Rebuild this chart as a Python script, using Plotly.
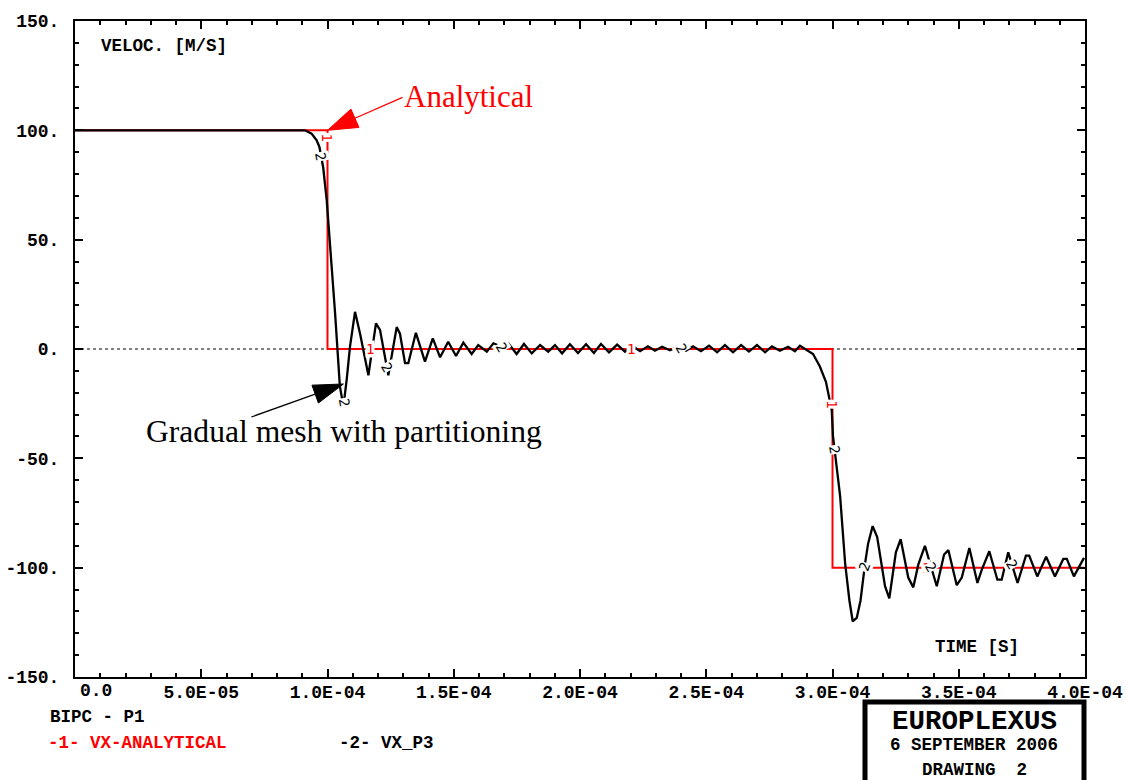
import numpy as np
import plotly.graph_objects as go

# ---------------- data ----------------
# analytical solution (step changes), time in microseconds
ana_t_us = [0, 100, 300, 400]
ana_v = [100, 0, -100, -100]

# numerical result VX_P3, time in microseconds
p3_t_us = [0, 91.1, 93.7, 95.7, 96.8, 98.3, 99.7, 100.7, 101.7, 103.0, 104.9, 106.3,
           107.6, 108.9, 110.9, 112.9, 116.2, 119.2, 120.8, 124.1, 127.4, 128.7,
           130.7, 132.0, 135.0, 138.6, 141.7, 144.6, 147.8, 150.9, 153.8, 157.1,
           159.7, 163.1, 165.7, 169.0, 171.6, 174.9, 177.8, 180.9, 184.2, 187.4,
           190.1, 192.9, 196.0, 199.2, 202.4, 205.5, 208.3, 211.5, 214.7, 217.8,
           220.6, 223.8, 226.9, 229.7, 232.5, 235.6, 238.8, 242.0, 244.8, 247.9,
           251.1, 254.3, 257.4, 260.6, 263.8, 266.9, 270.1, 273.3, 276.0, 279.2,
           282.4, 285.1, 287.1, 289.1, 292.3, 295.0, 297.4, 299.7, 300.2, 303.0,
           305.0, 306.7, 308.0, 309.6, 311.1, 312.9, 314.1, 315.9, 317.7, 320.8,
           322.5, 325.1, 327.0, 330.0, 332.0, 334.0, 336.6, 338.6, 341.3, 344.2,
           345.9, 349.2, 351.2, 354.2, 357.4, 359.1, 362.1, 365.3, 367.0, 369.6,
           373.3, 376.6, 377.9, 381.1, 384.6, 388.1, 391.4, 392.8, 395.6, 399.6]
p3_v = [100, 100, 98.5, 95.4, 92.4, 83, 68, 53, 37.6, 16.4, -17, -26.3,
        -14, 1, 17, 7, -12, 11.7, 8.7, -12, 10, 7,
        -6.5, -6.5, 7.4, -5.8, 4.9, -3.8, 3.3, -3.2, 2.9, -2.3,
        1.8, -1.2, 2.6, 1.0, 2.6, -2.3, 2.3, -2.0, 1.8, -1.2,
        1.8, -2.0, 2.2, -1.8, 2.2, -1.8, 2.3, -1.5, 2.0, -1.2,
        1.5, -1.0, 1.2, -0.8, 1.0, -0.6, 1.0, -0.8, 1.2, -1.0,
        1.5, -1.5, 1.8, -1.5, 1.8, -1.2, 1.8, -1.5, 1.2, -0.8,
        1.0, -1.0, 1.5, 0.0, -2.3, -8, -15, -28, -40, -67,
        -98, -115, -124.5, -123, -115, -98, -89, -81, -86, -108.5,
        -114, -93, -87, -104.5, -109, -98.5, -90, -98, -108.5, -94,
        -92, -108, -104.5, -91, -107, -101, -92.5, -105.5, -105.5, -93,
        -107, -94.5, -94.5, -104, -95, -104, -96, -96, -104, -95.5]

# axis ticks (first x label drawn separately, offset like the original field layout)
x_tickvals = [0, 5e-5, 1e-4, 1.5e-4, 2e-4, 2.5e-4, 3e-4, 3.5e-4, 4e-4]
x_ticktext = ["", "5.0E-05", "1.0E-04", "1.5E-04", "2.0E-04",
              "2.5E-04", "3.0E-04", "3.5E-04", "4.0E-04"]
x_first_label = "0.0"
y_tickvals = [-150, -100, -50, 0, 50, 100, 150]
y_ticktext = ["-150.", "-100.", "-50.", "0.", "50.", "100.", "150."]

# curve identification labels (time in microseconds)
lab1_t_us = [100, 117, 220, 300, 337]
lab1_v = [97, 0, 0, -25, -100]
lab1_ang = [90, 0, 0, 90, 0]
lab2_t_us = [97.5, 106.5, 123.5, 169, 240, 300.8, 312.7, 339, 371]
lab2_ang = [80, 80, 60, 60, 60, 80, -70, 60, 60]

ana_t = np.array(ana_t_us) * 1e-6
p3_t = np.array(p3_t_us) * 1e-6

# ---------------- figure ----------------
W, H = 1126, 780
L, R, T, B = 75, 41, 21, 103
PW, PH = W - L - R, H - T - B
XR = (0, 4e-4)
YR = (-150, 150)
sx = (XR[1] - XR[0]) / PW   # data per px
sy = (YR[1] - YR[0]) / PH

MONO = "Liberation Mono"
SERIF = "Liberation Serif"

fig = go.Figure()

fig.add_trace(go.Scatter(x=ana_t, y=ana_v, mode="lines", line=dict(color="#ff0000", width=2, shape="hv"),
                         showlegend=False, hoverinfo="skip"))
fig.add_trace(go.Scatter(x=p3_t, y=p3_v, mode="lines", line=dict(color="black", width=2.3),
                         showlegend=False, hoverinfo="skip"))

# zero dotted line
fig.add_shape(type="line", xref="paper", yref="y", x0=0, x1=1, y0=0, y1=0,
              line=dict(color="black", width=1, dash="dot"), layer="below")

# curve labels
for t, v, a in zip(lab1_t_us, lab1_v, lab1_ang):
    fig.add_annotation(x=t * 1e-6, y=v, text="1", showarrow=False, textangle=a,
                       bgcolor="white", borderpad=0,
                       font=dict(family="DejaVu Sans Mono", size=14, color="#ff0000"))
lab2_v = np.interp(np.array(lab2_t_us), np.array(p3_t_us), np.array(p3_v))
for t, v, a in zip(lab2_t_us, lab2_v, lab2_ang):
    fig.add_annotation(x=t * 1e-6, y=v, text="2", showarrow=False, textangle=a,
                       bgcolor="white", borderpad=0,
                       font=dict(family="DejaVu Sans Mono", size=14, color="#000000"))


def arrow(tip_x, tip_y, tail_dx, tail_dy, color, head_len=30, head_w=20, lw=1.3):
    """tip in data coords, tail offset in pixels (dx right, dy down)."""
    ux, uy = -tail_dx, -tail_dy
    n = (ux ** 2 + uy ** 2) ** 0.5
    ux, uy = ux / n, uy / n
    bx, by = -ux * head_len, -uy * head_len
    px_, py_ = -uy * head_w / 2, ux * head_w / 2

    def d(dx, dy):
        return tip_x + dx * sx, tip_y - dy * sy

    x0, y0 = d(tail_dx, tail_dy)
    x1, y1 = d(bx, by)
    fig.add_shape(type="line", x0=x0, y0=y0, x1=x1, y1=y1, line=dict(color=color, width=lw))
    a = d(0, 0)
    b = d(bx + px_, by + py_)
    c = d(bx - px_, by - py_)
    fig.add_shape(type="path", path=f"M{a[0]},{a[1]} L{b[0]},{b[1]} L{c[0]},{c[1]} Z",
                  fillcolor=color, line=dict(color=color, width=1))


arrow(100e-6, 100, 75, -33, "#ff0000")
arrow(106.3e-6, -16, -92, 33, "black", head_len=30, head_w=19)

fig.add_annotation(xref="paper", yref="paper", x=(402 - L) / PW, y=(H - B - 96) / PH,
                   xanchor="left", yanchor="middle", showarrow=False, text="Analytical",
                   font=dict(family=SERIF, size=31, color="#ff0000"))
fig.add_annotation(xref="paper", yref="paper", x=(144 - L) / PW, y=(H - B - 431) / PH,
                   xanchor="left", yanchor="middle", showarrow=False, text="Gradual mesh with partitioning",
                   font=dict(family=SERIF, size=31.6, color="black"))

# axis titles inside plot
def ptext(px, py, text, size=17.5, color="black", xanchor="left"):
    fig.add_annotation(xref="paper", yref="paper", x=(px - L) / PW, y=(H - B - py) / PH,
                       xanchor=xanchor, yanchor="middle", showarrow=False, text=text,
                       font=dict(family=MONO, size=size, color=color, weight="bold"))


ptext(99, 46, "VELOC. [M/S]")
ptext(933, 647, "TIME [S]")
ptext(48, 717, "BIPC - P1")
ptext(46, 743, "-1- VX-ANALYTICAL", color="#ff0000")
ptext(337, 743, "-2- VX_P3")
fig.add_annotation(xref="paper", yref="paper", x=(96 - L) / PW, y=(H - B - 691) / PH,
                   xanchor="center", yanchor="middle", showarrow=False, text=x_first_label,
                   font=dict(family=MONO, size=18, color="black", weight="bold"))

# EUROPLEXUS box
fig.add_shape(type="rect", xref="paper", yref="paper",
              x0=(865 - L) / PW, x1=(1084 - L) / PW, y0=(H - B - 702) / PH, y1=(H - B - 800) / PH,
              line=dict(color="black", width=5), fillcolor="white")
ptext(974, 721, "EUROPLEXUS", size=27.5, xanchor="center")
ptext(974, 745, "6 SEPTEMBER 2006", xanchor="center")
ptext(974, 770, "DRAWING\u00a0\u00a02", xanchor="center")

axis_common = dict(showline=True, linecolor="black", linewidth=2, mirror="allticks",
                   ticks="inside", ticklen=8, tickwidth=1.5, tickcolor="black",
                   showgrid=False, zeroline=False,
                   tickfont=dict(family=MONO, size=18, color="black", weight="bold"))

fig.update_xaxes(range=list(XR), tickmode="array", tickvals=x_tickvals, ticktext=x_ticktext,
                 minor=dict(dtick=1e-5, ticks="inside", ticklen=4, tickwidth=1.5, tickcolor="black", showgrid=False),
                 ticklabelstandoff=-3, **axis_common)
fig.update_yaxes(range=list(YR), tickmode="array", tickvals=y_tickvals, ticktext=y_ticktext,
                 minor=dict(dtick=10, ticks="inside", ticklen=4, tickwidth=1.5, tickcolor="black", showgrid=False),
                 ticklabelstandoff=10, **axis_common)

fig.update_layout(width=W, height=H, margin=dict(l=L, r=R, t=T, b=B, autoexpand=False),
                  plot_bgcolor="white", paper_bgcolor="white", showlegend=False)

fig.write_html("out.html")
